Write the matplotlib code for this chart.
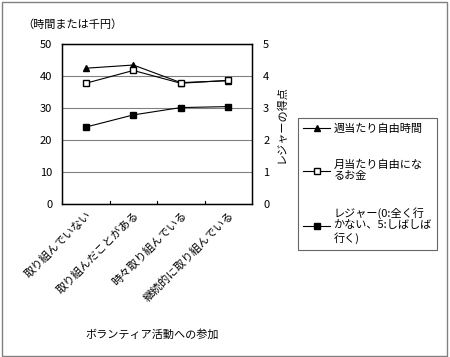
import matplotlib
matplotlib.use('Agg')
import matplotlib.pyplot as plt
from matplotlib.patches import Rectangle

plt.rcParams['font.family'] = ['Noto Sans CJK JP', 'DejaVu Sans']

categories = ['取り組んでいない', '取り組んだことがある', '時々取り組んでいる', '継続的に取り組んでいる']
free_time = [42.4, 43.4, 37.9, 38.5]
free_money = [37.7, 41.7, 37.7, 38.6]
leisure = [2.40, 2.78, 3.01, 3.04]

fs = 8

fig = plt.figure(figsize=(4.5, 3.57), dpi=100)
fig.patches.append(Rectangle((0.004, 0.004), 0.99, 0.99, transform=fig.transFigure,
                             fill=False, edgecolor='#808080', linewidth=1))

ax = fig.add_axes([0.138, 0.429, 0.422, 0.448])
x = range(len(categories))
ax.plot(x, free_time, '-^', color='black', markersize=5, linewidth=0.8,
        label='週当たり自由時間')
ax.plot(x, free_money, '-s', color='black', markerfacecolor='white', markersize=5,
        linewidth=0.8, label='月当たり自由にな\nるお金')
ax.set_xlim(-0.5, 3.5)
ax.set_ylim(0, 50)
ax.set_yticks([0, 10, 20, 30, 40, 50])
ax.yaxis.grid(True, color='#808080', linewidth=0.8)
ax.set_axisbelow(True)
ax.tick_params(axis='y', length=0, labelsize=fs, pad=7)
ax.set_xticks([0, 1, 2, 3])
ax.set_xticklabels(categories, rotation=45, ha='right', rotation_mode='anchor', fontsize=fs)
ax.tick_params(axis='x', length=0, pad=4)
for b in [0.5, 1.5, 2.5]:
    ax.plot([b, b], [0, 0.8], color='black', linewidth=0.8)
for s in ax.spines.values():
    s.set_linewidth(1)

ax2 = ax.twinx()
ax2.plot(x, leisure, '-s', color='black', markersize=5, linewidth=0.8,
         label='レジャー(0:全く行\nかない、5:しばしば\n行く)')
ax2.set_ylim(0, 5)
ax2.set_yticks([0, 1, 2, 3, 4, 5])
ax2.tick_params(axis='y', length=0, labelsize=fs, pad=8)
ax2.set_ylabel('レジャーの得点', fontsize=fs, va='center')
ax2.yaxis.set_label_coords(1.153, 0.5)

fig.text(0.05, 0.93, '（時間または千円）', fontsize=fs, va='center')
fig.text(0.338, 0.062, 'ボランティア活動への参加', fontsize=fs, ha='center', va='center')

h1, l1 = ax.get_legend_handles_labels()
h2, l2 = ax2.get_legend_handles_labels()
leg = fig.legend(h1 + h2, l1 + l2, loc='upper left', bbox_to_anchor=(0.662, 0.67),
                 fontsize=fs, frameon=True, fancybox=False, edgecolor='#404040',
                 handlelength=2.4, handletextpad=0.3, labelspacing=2.3,
                 borderpad=0.5, borderaxespad=0, markerscale=0.8)
leg.get_frame().set_linewidth(0.8)

fig.savefig('out.png', dpi=100)
